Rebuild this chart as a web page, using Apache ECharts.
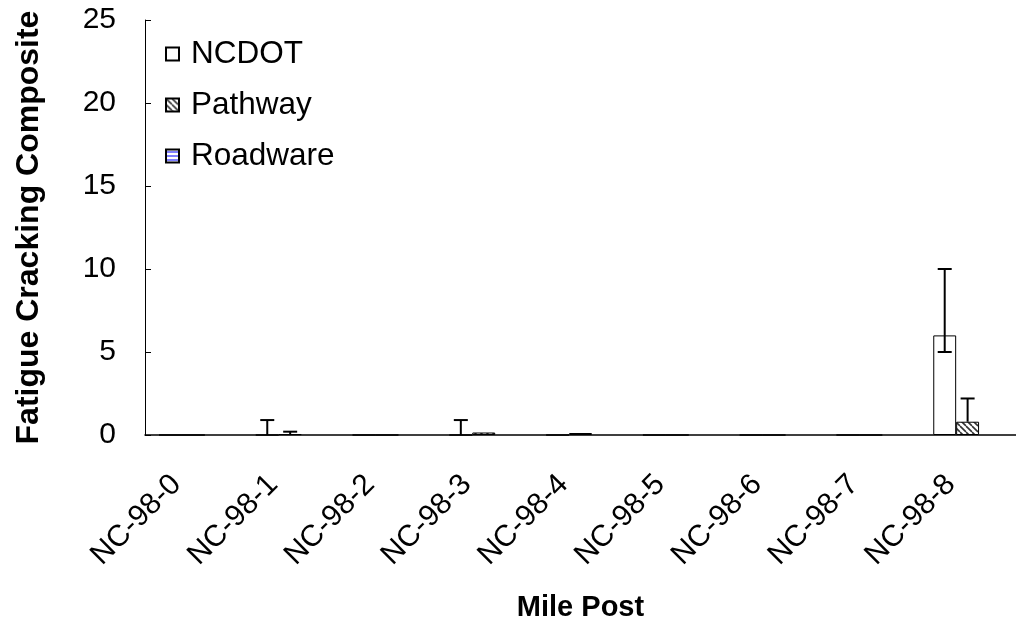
<!DOCTYPE html>
<html>
<head>
<meta charset="utf-8">
<script src="https://cdn.jsdelivr.net/npm/echarts@6/dist/echarts.min.js"></script>
<style>
html,body{margin:0;padding:0;background:#fff;}
#chart{width:1016px;height:628px;}
</style>
</head>
<body>
<div id="chart"></div>
<script>
const categories = ['NC-98-0','NC-98-1','NC-98-2','NC-98-3','NC-98-4','NC-98-5','NC-98-6','NC-98-7','NC-98-8'];
const ncdot = [0, 0, 0, 0, 0, 0, 0, 0, 6];
const pathway = [0, 0.05, 0, 0.15, 0.12, 0, 0, 0, 0.8];
const roadware = [null, null, null, null, null, null, null, null, null];
const ncdotErrLow = [null, 0, null, 0, null, null, null, null, 5];
const ncdotErrHigh = [null, 0.9, null, 0.9, null, null, null, null, 10];
const pathwayErrLow = [null, 0.05, null, null, null, null, null, null, 0.8];
const pathwayErrHigh = [null, 0.2, null, null, null, null, null, null, 2.2];
const yTicks = [0, 5, 10, 15, 20, 25];

const FONT = 'Liberation Sans, Arial, sans-serif';
const GAP_RATIO = 0.29;

function hatchPattern() {
  const c = document.createElement('canvas');
  c.width = 6; c.height = 6;
  const g = c.getContext('2d');
  g.fillStyle = '#fff'; g.fillRect(0, 0, 6, 6);
  g.strokeStyle = '#333'; g.lineWidth = 1.6;
  for (const x of [-6, 0, 6]) {
    g.beginPath(); g.moveTo(x, 0); g.lineTo(x + 6, 6); g.stroke();
  }
  return c;
}
function stripePattern() {
  const c = document.createElement('canvas');
  c.width = 4; c.height = 4;
  const g = c.getContext('2d');
  g.fillStyle = '#fff'; g.fillRect(0, 0, 4, 4);
  g.fillStyle = '#0000ff'; g.fillRect(0, 2, 4, 1);
  return c;
}

function errData(low, high, vals) {
  const out = [];
  for (let i = 0; i < categories.length; i++) {
    if (low[i] != null && high[i] != null) out.push([i, low[i], high[i], vals[i]]);
  }
  return out;
}

function makeErrRender(slot) {
  return function (params, api) {
    const i = api.value(0);
    const lo = api.value(1), hi = api.value(2), v = api.value(3);
    const catW = api.size([1, 0])[0];
    const barW = catW * (1 - GAP_RATIO) / 3;
    const c0 = api.coord([i, 0]);
    const x = c0[0] + (slot - 1) * barW;
    const yHi = api.coord([i, hi])[1];
    const yLo = api.coord([i, lo])[1];
    const cap = 7;
    const st = { stroke: '#000', lineWidth: 2 };
    const children = [
      { type: 'line', shape: { x1: x, y1: yLo, x2: x, y2: yHi }, style: st },
      { type: 'line', shape: { x1: x - cap, y1: yHi, x2: x + cap, y2: yHi }, style: st }
    ];
    if (lo < v) {
      children.push({ type: 'line', shape: { x1: x - cap, y1: yLo, x2: x + cap, y2: yLo }, style: st });
    }
    return { type: 'group', children: children };
  };
}

const chart = echarts.init(document.getElementById('chart'), null, { renderer: 'canvas' });
const barStyleBase = { borderColor: '#000', borderWidth: 1 };
chart.setOption({
  animation: false,
  backgroundColor: '#fff',
  grid: { left: 145, width: 874, top: 20, bottom: 193 },
  legend: {
    orient: 'vertical', left: 160, top: 33,
    itemWidth: 13, itemHeight: 13, itemGap: 19,
    icon: 'rect',
    textStyle: { fontFamily: FONT, fontSize: 31.5, color: '#000', padding: [0, 0, 0, 7] },
    data: ['NCDOT', 'Pathway', 'Roadware']
  },
  xAxis: {
    type: 'category', data: categories,
    name: 'Mile Post', nameLocation: 'middle', nameGap: 158,
    nameTextStyle: { fontFamily: FONT, fontSize: 29, fontWeight: 'bold', color: '#000' },
    axisLine: { lineStyle: { color: '#000', width: 1.5 } },
    axisTick: { inside: true, length: 8, alignWithLabel: false, lineStyle: { color: '#000' } },
    axisLabel: { rotate: 45, margin: 28, interval: 0, padding: [0, 24, 0, 0],
      fontFamily: FONT, fontSize: 30, color: '#000' },
    splitLine: { show: false }
  },
  yAxis: {
    type: 'value', min: 0, max: 25, interval: 5,
    name: 'Fatigue Cracking Composite', nameLocation: 'middle', nameGap: 100,
    nameTextStyle: { fontFamily: FONT, fontSize: 32, fontWeight: 'bold', color: '#000' },
    axisLine: { show: true, lineStyle: { color: '#000', width: 1 } },
    axisTick: { show: true, inside: true, length: 6, lineStyle: { color: '#000' } },
    axisLabel: { margin: 29, fontFamily: FONT, fontSize: 30, color: '#000',
      formatter: function (v) { return yTicks.indexOf(v) >= 0 ? String(v) : ''; } },
    splitLine: { show: false }
  },
  series: [
    { name: 'NCDOT', type: 'bar', data: ncdot, barGap: '0%', barCategoryGap: '29%',
      itemStyle: Object.assign({ color: '#fff' }, barStyleBase) },
    { name: 'Pathway', type: 'bar', data: pathway, barGap: '0%', barCategoryGap: '29%',
      itemStyle: Object.assign({ color: { image: hatchPattern(), repeat: 'repeat' } }, barStyleBase) },
    { name: 'Roadware', type: 'bar', data: roadware, barGap: '0%', barCategoryGap: '29%',
      itemStyle: Object.assign({ color: { image: stripePattern(), repeat: 'repeat' } }, barStyleBase) },
    { name: 'NCDOT err', type: 'custom', renderItem: makeErrRender(0),
      data: errData(ncdotErrLow, ncdotErrHigh, ncdot), encode: { x: 0, y: [1, 2] }, z: 5, silent: true },
    { name: 'Pathway err', type: 'custom', renderItem: makeErrRender(1),
      data: errData(pathwayErrLow, pathwayErrHigh, pathway), encode: { x: 0, y: [1, 2] }, z: 5, silent: true }
  ]
});
</script>
</body>
</html>
